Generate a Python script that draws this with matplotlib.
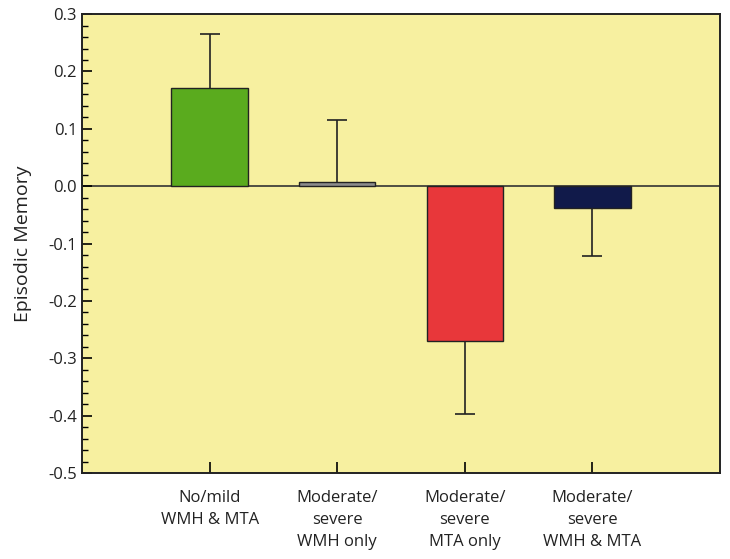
import numpy as np
import matplotlib.pyplot as plt
from matplotlib.ticker import MultipleLocator

# groups and values
groups = ["No/mild\nWMH & MTA", "Moderate/\nsevere\nWMH only",
          "Moderate/\nsevere\nMTA only", "Moderate/\nsevere\nWMH & MTA"]
means = [0.172, 0.007, -0.270, -0.038]
err = [0.093, 0.108, 0.127, 0.084]
colors = ["#5aab1e", "#8c8c8c", "#e8373a", "#111a4a"]

plt.rcParams['font.family'] = ['Open Sans', 'DejaVu Sans']

fig = plt.figure(figsize=(7.3, 5.59), dpi=100)
ax = fig.add_axes([0.1123, 0.1538, 0.874, 0.821])
ax.set_facecolor("#f7f0a0")

x = np.arange(len(groups))
ax.bar(x, means, width=0.6, color=colors, edgecolor="#222222", linewidth=1.0, zorder=2)

# one-sided error bars, pointing away from zero, cap only at the tip
tips = [m + e if m >= 0 else m - e for m, e in zip(means, err)]
ax.vlines(x, means, tips, color="#222222", linewidth=1.2, zorder=3)
ax.plot(x, tips, linestyle="none", marker="_", markersize=15,
        markeredgewidth=1.2, color="#222222", zorder=3)

ax.axhline(0, color="#333333", linewidth=1.2, zorder=1)

ax.set_xlim(-1, 4)
ax.set_ylim(-0.5, 0.3)
ax.set_xticks(x)
ax.set_xticklabels(groups, fontsize=12, color="#222222", linespacing=1.5)
ax.yaxis.set_major_locator(MultipleLocator(0.1))
ax.yaxis.set_minor_locator(MultipleLocator(0.02))
ax.set_yticklabels([f"{v:.1f}" for v in ax.get_yticks()], fontsize=12, color="#222222")
ax.tick_params(axis="y", which="major", direction="in", length=7, width=1.2)
ax.tick_params(axis="y", which="minor", direction="in", length=4, width=1.0)
ax.tick_params(axis="x", direction="in", length=8, width=1.2, pad=12)
ax.set_ylabel("Episodic Memory", fontsize=14, color="#222222", labelpad=12)

for s in ax.spines.values():
    s.set_linewidth(1.4)
    s.set_color("#222222")

fig.savefig("out.png", dpi=100, facecolor="white")
